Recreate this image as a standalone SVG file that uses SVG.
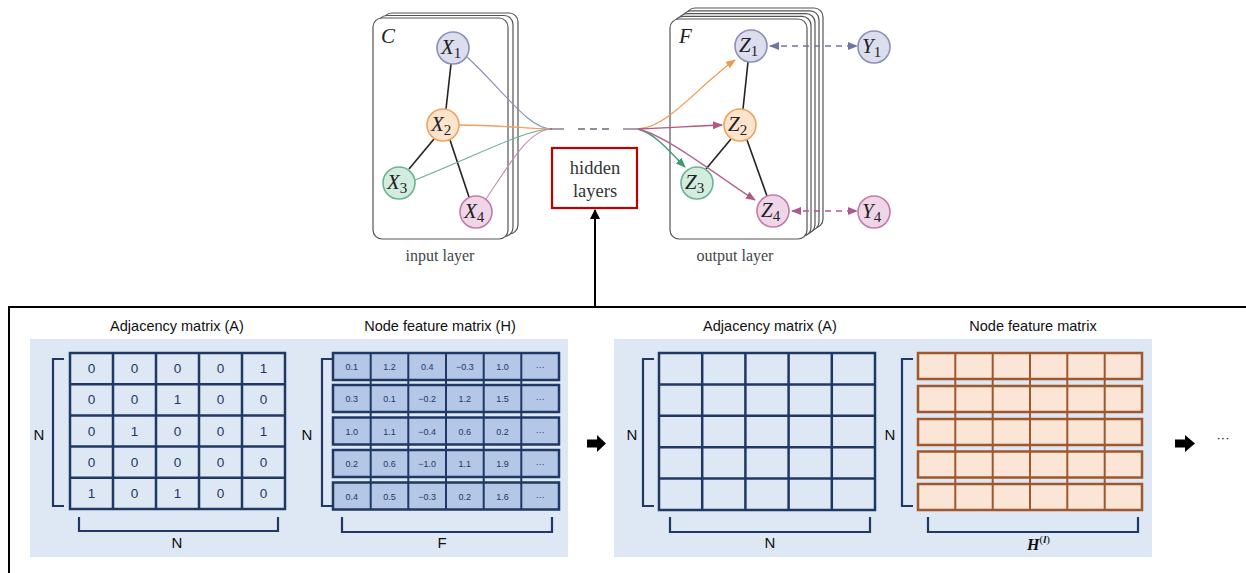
<svg xmlns="http://www.w3.org/2000/svg" width="1246" height="573" viewBox="0 0 1246 573">
<style>
.card{fill:#fff;stroke:#555;stroke-width:1.2}
.edge{stroke:#222;stroke-width:1.6;fill:none}
.lab{font-family:"Liberation Serif","DejaVu Serif",serif;font-style:italic;font-size:21px;fill:#222}
.sub{font-family:"Liberation Serif","DejaVu Serif",serif;font-style:normal;font-size:15px}
.cap{font-family:"Liberation Serif","DejaVu Serif",serif;font-size:16px;fill:#444;text-anchor:middle}
.hid{font-family:"Liberation Serif","DejaVu Serif",serif;font-size:18.5px;fill:#333;text-anchor:middle}
.title{font-family:"Liberation Sans",Arial,sans-serif;font-size:14.5px;fill:#111;text-anchor:middle}
.dim{font-family:"Liberation Sans",Arial,sans-serif;font-size:15px;fill:#111;text-anchor:middle}
.panel{fill:#dde8f4}
.grid{fill:none;stroke:#1f3864;stroke-width:2.5}
.bracket{fill:none;stroke:#1f3864;stroke-width:2.2}
.a{font-family:"Liberation Sans",Arial,sans-serif;font-size:13.5px;fill:#1f3864;text-anchor:middle}
.h{font-family:"Liberation Sans",Arial,sans-serif;font-size:9px;fill:#1f3864;text-anchor:middle}
.hrow{fill:#b4c7e7;stroke:#1f3864;stroke-width:2.5}
.hline{stroke:#1f3864;stroke-width:2}
.orow{fill:#fbe5d6;stroke:#a0572b;stroke-width:2.5}
.oline{stroke:#a0572b;stroke-width:2}
.blk{fill:#000}
</style>
<defs>
<marker id="mOr" markerUnits="userSpaceOnUse" markerWidth="10" markerHeight="8" refX="9" refY="4" orient="auto"><path d="M0,0 L10,4 L0,8 z" fill="#f09a50"/></marker>
<marker id="mPk" markerUnits="userSpaceOnUse" markerWidth="10" markerHeight="8" refX="9" refY="4" orient="auto"><path d="M0,0 L10,4 L0,8 z" fill="#b3587f"/></marker>
<marker id="mGr" markerUnits="userSpaceOnUse" markerWidth="10" markerHeight="8" refX="9" refY="4" orient="auto"><path d="M0,0 L10,4 L0,8 z" fill="#3a9a70"/></marker>
<marker id="mBl" markerUnits="userSpaceOnUse" markerWidth="10" markerHeight="8" refX="9" refY="4" orient="auto-start-reverse"><path d="M0,0 L10,4 L0,8 z" fill="#6f76a8"/></marker>
<marker id="mPk2" markerUnits="userSpaceOnUse" markerWidth="10" markerHeight="8" refX="9" refY="4" orient="auto-start-reverse"><path d="M0,0 L10,4 L0,8 z" fill="#b0588e"/></marker>
<marker id="mBk" markerUnits="userSpaceOnUse" markerWidth="10" markerHeight="10" refX="9" refY="5" orient="auto"><path d="M0,0 L10,5 L0,10 z" fill="#000"/></marker>
</defs>

<!-- input layer stack -->
<g id="input-layer">
<rect class="card" x="383" y="13" width="135" height="221" rx="9"/>
<rect class="card" x="378" y="15.5" width="135" height="221" rx="9"/>
<rect class="card" x="373" y="18" width="135" height="221" rx="9"/>
<text class="lab" x="381" y="43">C</text>
<text class="cap" x="440" y="261">input layer</text>
</g>

<!-- output layer stack -->
<g id="output-layer">
<rect class="card" x="686" y="8" width="137" height="220" rx="9"/>
<rect class="card" x="682" y="10.8" width="137" height="220" rx="9"/>
<rect class="card" x="678" y="13.6" width="137" height="220" rx="9"/>
<rect class="card" x="674" y="16.4" width="137" height="220" rx="9"/>
<rect class="card" x="670" y="19" width="137" height="220" rx="9"/>
<text class="lab" x="679" y="43">F</text>
<text class="cap" x="735" y="261">output layer</text>
</g>

<!-- connectors -->
<g id="connectors" fill="none">
<path class="edge" d="M451,64 L446,109"/>
<path class="edge" d="M434,139 L409,169"/>
<path class="edge" d="M450,140 L469,197"/>
<path class="edge" d="M748,62 L743,109"/>
<path class="edge" d="M731,139 L706,169"/>
<path class="edge" d="M747,140 L767,196"/>
<path d="M467,57 C505,92 528,129 552,129" stroke="#8a8fb5" stroke-width="1.1"/>
<path d="M459,125 C500,125 530,129 552,129" stroke="#f0a060" stroke-width="1.3"/>
<path d="M415,180 C480,154 526,129 552,129" stroke="#6aae8c" stroke-width="1.1"/>
<path d="M486,199 C512,160 530,129 552,129" stroke="#c88ab0" stroke-width="1.1"/>
<path d="M550,129 H564" stroke="#7a6a80" stroke-width="1.3"/>
<path d="M578,129 H609" stroke="#6a6a78" stroke-width="1.3" stroke-dasharray="7,5"/>
<path d="M623,129 H640" stroke="#7a6a80" stroke-width="1.3"/>
<path d="M638,129 C668,128 700,84 735,60" stroke="#f09a50" stroke-width="1.3" marker-end="url(#mOr)"/>
<path d="M638,129 C670,128 692,126 722,125" stroke="#b3587f" stroke-width="1.3" marker-end="url(#mPk)"/>
<path d="M638,129 C656,134 670,152 685,167" stroke="#3a9a70" stroke-width="1.3" marker-end="url(#mGr)"/>
<path d="M638,129 C668,136 720,178 755,200" stroke="#b0648f" stroke-width="1.3" marker-end="url(#mPk)"/>
<path d="M770,46 H857" stroke="#6f76a8" stroke-width="1.3" stroke-dasharray="6,5" marker-start="url(#mBl)" marker-end="url(#mBl)"/>
<path d="M792,211 H857" stroke="#b0588e" stroke-width="1.3" stroke-dasharray="6,5" marker-start="url(#mPk2)" marker-end="url(#mPk2)"/>
<path d="M595,307 V210" stroke="#000" stroke-width="2" marker-end="url(#mBk)"/>
<path d="M1246,307 H9 V573" stroke="#000" stroke-width="2"/>
</g>

<!-- graph nodes -->
<g id="X1"><circle cx="453" cy="48" r="16" fill="#dcdeee" stroke="#8a8fb8" stroke-width="1.6"/><text class="lab" x="441" y="54">X<tspan class="sub" dy="4">1</tspan></text></g>
<g id="X2"><circle cx="443" cy="125" r="16" fill="#fde4cc" stroke="#f2a25a" stroke-width="1.6"/><text class="lab" x="431" y="131">X<tspan class="sub" dy="4">2</tspan></text></g>
<g id="X3"><circle cx="399" cy="183" r="16" fill="#d3ece0" stroke="#6ab393" stroke-width="1.6"/><text class="lab" x="387" y="189">X<tspan class="sub" dy="4">3</tspan></text></g>
<g id="X4"><circle cx="476" cy="212" r="16" fill="#efd5e8" stroke="#c47aa8" stroke-width="1.6"/><text class="lab" x="464" y="218">X<tspan class="sub" dy="4">4</tspan></text></g>
<g id="Z1"><circle cx="751" cy="46" r="16" fill="#dcdeee" stroke="#8a8fb8" stroke-width="1.6"/><text class="lab" x="739" y="52">Z<tspan class="sub" dy="4">1</tspan></text></g>
<g id="Z2"><circle cx="740" cy="125" r="16" fill="#fde4cc" stroke="#f2a25a" stroke-width="1.6"/><text class="lab" x="728" y="131">Z<tspan class="sub" dy="4">2</tspan></text></g>
<g id="Z3"><circle cx="697" cy="183" r="16" fill="#d3ece0" stroke="#6ab393" stroke-width="1.6"/><text class="lab" x="685" y="189">Z<tspan class="sub" dy="4">3</tspan></text></g>
<g id="Z4"><circle cx="773" cy="211" r="16" fill="#efd5e8" stroke="#c47aa8" stroke-width="1.6"/><text class="lab" x="761" y="217">Z<tspan class="sub" dy="4">4</tspan></text></g>
<g id="Y1"><circle cx="874" cy="47" r="16" fill="#dcdeee" stroke="#8a8fb8" stroke-width="1.6"/><text class="lab" x="862" y="53">Y<tspan class="sub" dy="4">1</tspan></text></g>
<g id="Y4"><circle cx="874" cy="212" r="16" fill="#efd5e8" stroke="#c47aa8" stroke-width="1.6"/><text class="lab" x="862" y="218">Y<tspan class="sub" dy="4">4</tspan></text></g>

<g id="hidden-layers">
<rect x="552" y="148" width="85" height="60" fill="#fff" stroke="#c00000" stroke-width="2.2"/>
<text class="hid" x="595" y="174">hidden</text>
<text class="hid" x="595" y="197">layers</text>
</g>

<!-- bottom panel 1 -->
<g id="panel1">
<rect class="panel" x="30" y="339" width="538" height="218"/>
<text class="title" x="177" y="331">Adjacency matrix (A)</text>
<text class="title" x="440" y="331">Node feature matrix (H)</text>
</g>

<g id="matrixA1">
<rect class="grid" x="70" y="353" width="215" height="156"/>
<path class="grid" d="M113,353V509M156,353V509M199,353V509M242,353V509M70,384.2H285M70,415.4H285M70,446.6H285M70,477.8H285"/>
<g class="a">
<text x="91.5" y="373">0</text><text x="134.5" y="373">0</text><text x="177.5" y="373">0</text><text x="220.5" y="373">0</text><text x="263.5" y="373">1</text>
<text x="91.5" y="404">0</text><text x="134.5" y="404">0</text><text x="177.5" y="404">1</text><text x="220.5" y="404">0</text><text x="263.5" y="404">0</text>
<text x="91.5" y="435.5">0</text><text x="134.5" y="435.5">1</text><text x="177.5" y="435.5">0</text><text x="220.5" y="435.5">0</text><text x="263.5" y="435.5">1</text>
<text x="91.5" y="466.5">0</text><text x="134.5" y="466.5">0</text><text x="177.5" y="466.5">0</text><text x="220.5" y="466.5">0</text><text x="263.5" y="466.5">0</text>
<text x="91.5" y="498">1</text><text x="134.5" y="498">0</text><text x="177.5" y="498">1</text><text x="220.5" y="498">0</text><text x="263.5" y="498">0</text>
</g>
<path class="bracket" d="M64,359H53V506H64"/>
<path class="bracket" d="M79,517V531H278V517"/>
<text class="dim" x="39" y="440">N</text>
<text class="dim" x="177" y="548">N</text>
</g>

<g id="matrixH1">
<g>
<rect class="hrow" x="333" y="353" width="226" height="27"/>
<rect class="hrow" x="333" y="385" width="226" height="27"/>
<rect class="hrow" x="333" y="417.5" width="226" height="27"/>
<rect class="hrow" x="333" y="450" width="226" height="27"/>
<rect class="hrow" x="333" y="482.5" width="226" height="27"/>
<path class="hline" d="M370.7,353V509.5M408.3,353V509.5M446,353V509.5M483.7,353V509.5M521.3,353V509.5"/>
</g>
<g class="h">
<text x="351.8" y="370">0.1</text><text x="389.5" y="370">1.2</text><text x="427.2" y="370">0.4</text><text x="464.8" y="370">−0.3</text><text x="502.5" y="370">1.0</text><text x="540.2" y="370">···</text>
<text x="351.8" y="402">0.3</text><text x="389.5" y="402">0.1</text><text x="427.2" y="402">−0.2</text><text x="464.8" y="402">1.2</text><text x="502.5" y="402">1.5</text><text x="540.2" y="402">···</text>
<text x="351.8" y="434.5">1.0</text><text x="389.5" y="434.5">1.1</text><text x="427.2" y="434.5">−0.4</text><text x="464.8" y="434.5">0.6</text><text x="502.5" y="434.5">0.2</text><text x="540.2" y="434.5">···</text>
<text x="351.8" y="467">0.2</text><text x="389.5" y="467">0.6</text><text x="427.2" y="467">−1.0</text><text x="464.8" y="467">1.1</text><text x="502.5" y="467">1.9</text><text x="540.2" y="467">···</text>
<text x="351.8" y="499.5">0.4</text><text x="389.5" y="499.5">0.5</text><text x="427.2" y="499.5">−0.3</text><text x="464.8" y="499.5">0.2</text><text x="502.5" y="499.5">1.6</text><text x="540.2" y="499.5">···</text>
</g>
<path class="bracket" d="M333,359H322V506H333"/>
<path class="bracket" d="M342,517V532H552V517"/>
<text class="dim" x="307" y="440">N</text>
<text class="dim" x="442" y="548">F</text>
</g>

<g id="arrow1"><polygon class="blk" points="587,439.5 597,439.5 597,435 606,443.5 597,452 597,447.5 587,447.5"/></g>

<!-- bottom panel 2 -->
<g id="panel2">
<rect class="panel" x="614" y="339" width="538" height="218"/>
<text class="title" x="770" y="331">Adjacency matrix (A)</text>
<text class="title" x="1033" y="331">Node feature matrix</text>
</g>

<g id="matrixA2">
<rect class="grid" x="659" y="353" width="216" height="157"/>
<path class="grid" d="M702.2,353V510M745.4,353V510M788.6,353V510M831.8,353V510M659,384.4H875M659,415.8H875M659,447.2H875M659,478.6H875"/>
<path class="bracket" d="M654,359H643V506H654"/>
<path class="bracket" d="M670,517V532H870V517"/>
<text class="dim" x="632" y="440">N</text>
<text class="dim" x="770" y="548">N</text>
</g>

<g id="matrixH2">
<rect class="orow" x="918" y="353" width="224" height="26"/>
<rect class="orow" x="918" y="386" width="224" height="26"/>
<rect class="orow" x="918" y="419" width="224" height="26"/>
<rect class="orow" x="918" y="451.5" width="224" height="26"/>
<rect class="orow" x="918" y="484" width="224" height="26"/>
<path class="oline" d="M955.3,353V510M992.7,353V510M1030,353V510M1067.3,353V510M1104.7,353V510"/>
<path class="bracket" d="M913,359H902V506H913"/>
<path class="bracket" d="M928,517V532H1138V517"/>
<text class="dim" x="890" y="440">N</text>
<text x="1027" y="550" font-family="Liberation Serif,serif" font-weight="bold" font-style="italic" font-size="16" fill="#111">H<tspan font-size="11" dy="-7" font-weight="normal" font-style="normal">(</tspan><tspan font-size="11">l</tspan><tspan font-size="11" font-weight="normal" font-style="normal">)</tspan></text>
</g>

<g id="arrow2"><polygon class="blk" points="1175,439.5 1185,439.5 1185,435 1195,443.5 1185,452 1185,447.5 1175,447.5"/></g>
<text x="1223" y="442" font-family="Liberation Sans,Arial,sans-serif" font-size="13" fill="#111" text-anchor="middle">···</text>
</svg>
